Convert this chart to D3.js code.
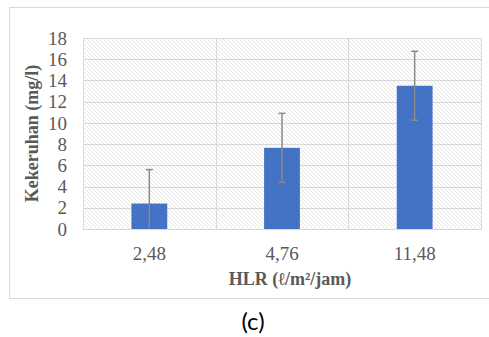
<!DOCTYPE html>
<html>
<head>
  <meta charset="utf-8" />
  <title>Kekeruhan vs HLR</title>
  <script src="https://d3js.org/d3.v7.min.js"></script>
  <style>
    body { margin: 0; padding: 0; background: #fff; }
    svg { display: block; }
    .tick-label { font-family: "Liberation Serif", serif; font-size: 19px; fill: #595959; }
    .axis-title { font-family: "Liberation Serif", serif; font-size: 18px; font-weight: bold; fill: #595959; }
  </style>
</head>
<body>
  <svg width="489" height="337"></svg>

  <script>
    // data
    const categories = ["2,48", "4,76", "11,48"];
    const values = [2.4, 7.65, 13.5];
    const errors = [3.2, 3.25, 3.25];
    const yTicks = [0, 2, 4, 6, 8, 10, 12, 14, 16, 18];

    const svg = d3.select("svg");
    const plot = { left: 83, right: 481, top: 38, bottom: 229 };

    // hatch fill for the plot area
    const defs = svg.append("defs");
    const pat = defs.append("pattern")
      .attr("id", "hatch")
      .attr("patternUnits", "userSpaceOnUse")
      .attr("width", 4).attr("height", 4);
    pat.append("rect").attr("width", 4).attr("height", 4).attr("fill", "#fff");
    pat.append("path")
      .attr("d", "M-1,-1 L5,5 M-1,3 L1,5 M3,-1 L5,1")
      .attr("stroke", "#e2e2e2")
      .attr("stroke-width", 0.9);

    // outer chart frame
    svg.append("rect")
      .attr("x", 9.5).attr("y", 7.5)
      .attr("width", 500).attr("height", 291)
      .attr("fill", "#fff")
      .attr("stroke", "#d9d9d9");

    const x = d3.scaleBand().domain(categories).range([plot.left, plot.right]).padding(0);
    const y = d3.scaleLinear().domain([0, 18]).range([plot.bottom, plot.top]).clamp(true);

    svg.append("rect")
      .attr("x", plot.left).attr("y", plot.top)
      .attr("width", plot.right - plot.left).attr("height", plot.bottom - plot.top)
      .attr("fill", "url(#hatch)");

    // horizontal gridlines
    svg.append("g").selectAll("line").data(yTicks).join("line")
      .attr("x1", plot.left).attr("x2", plot.right)
      .attr("y1", d => Math.round(y(d)) + 0.5).attr("y2", d => Math.round(y(d)) + 0.5)
      .attr("stroke", "#d9d9d9");

    // vertical gridlines at category boundaries
    const bounds = categories.map(c => x(c)).concat([plot.right]);
    svg.append("g").selectAll("line").data(bounds).join("line")
      .attr("x1", d => Math.round(d) + 0.5).attr("x2", d => Math.round(d) + 0.5)
      .attr("y1", plot.top).attr("y2", plot.bottom)
      .attr("stroke", "#d9d9d9");

    // y tick labels
    svg.append("g").selectAll("text").data(yTicks).join("text")
      .attr("class", "tick-label")
      .attr("x", 67).attr("y", d => y(d))
      .attr("dy", "0.35em")
      .attr("text-anchor", "end")
      .text(d => d);

    // x tick labels
    svg.append("g").selectAll("text").data(categories).join("text")
      .attr("class", "tick-label")
      .attr("x", d => x(d) + x.bandwidth() / 2)
      .attr("y", 260)
      .attr("text-anchor", "middle")
      .text(d => d);

    // bars
    const barW = x.bandwidth() * 0.27;
    svg.append("g").selectAll("rect").data(values).join("rect")
      .attr("x", (d, i) => x(categories[i]) + (x.bandwidth() - barW) / 2)
      .attr("y", d => y(d))
      .attr("width", barW)
      .attr("height", d => y(0) - y(d))
      .attr("fill", "#4472c4");

    // error bars
    const eb = svg.append("g").attr("stroke", "#8a8a8a").attr("stroke-width", 1.5);
    values.forEach((v, i) => {
      const cx = x(categories[i]) + x.bandwidth() / 2;
      const hi = y(v + errors[i]);
      const lo = y(v - errors[i]);
      eb.append("line").attr("x1", cx).attr("x2", cx).attr("y1", hi).attr("y2", lo);
      eb.append("line").attr("x1", cx - 3.5).attr("x2", cx + 3.5).attr("y1", hi).attr("y2", hi);
      if (v - errors[i] > 0) {
        eb.append("line").attr("x1", cx - 3.5).attr("x2", cx + 3.5).attr("y1", lo).attr("y2", lo);
      }
    });

    // axis titles
    svg.append("text")
      .attr("class", "axis-title")
      .attr("transform", `translate(38,${(plot.top + plot.bottom) / 2}) rotate(-90)`)
      .attr("text-anchor", "middle")
      .text("Kekeruhan (mg/l)");

    svg.append("text")
      .attr("class", "axis-title")
      .attr("x", 290).attr("y", 285)
      .attr("text-anchor", "middle")
      .text("HLR (ℓ/m²/jam)");

    // panel label
    svg.append("text")
      .attr("x", 253).attr("y", 330)
      .attr("text-anchor", "middle")
      .style("font-family", "Lato, sans-serif")
      .style("font-size", "24px")
      .style("fill", "#000")
      .text("(c)");
  </script>
</body>
</html>
